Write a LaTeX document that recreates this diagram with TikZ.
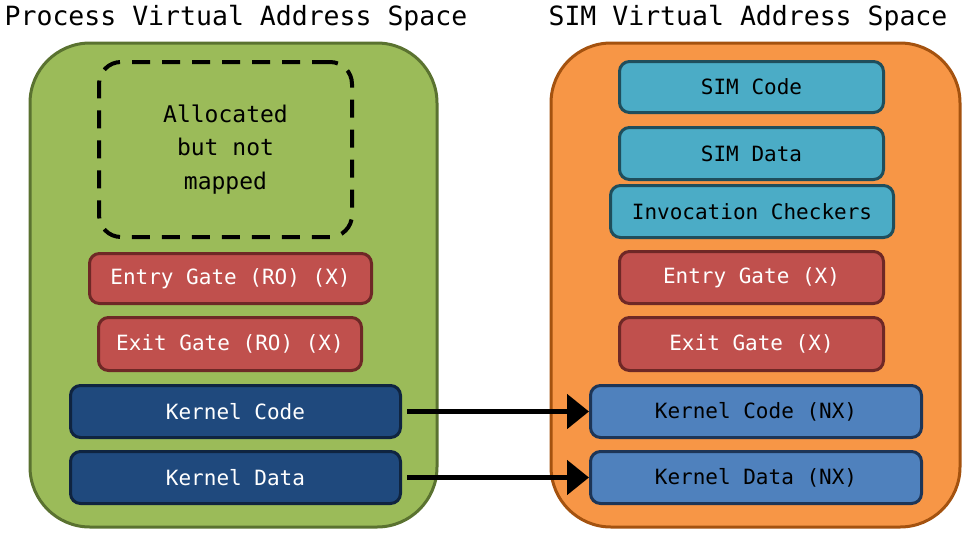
\documentclass[tikz,border=0pt]{standalone}
\usepackage{fontspec}
\setmonofont{DejaVu Sans Mono}
\usepackage{tikz}
\usetikzlibrary{arrows.meta, positioning}

\definecolor{procgreen}{HTML}{9BBB59}
\definecolor{procline}{HTML}{5A7230}
\definecolor{simorange}{HTML}{F79646}
\definecolor{simline}{HTML}{A4520F}
\definecolor{gatered}{HTML}{C0504D}
\definecolor{gateline}{HTML}{6E2826}
\definecolor{kerndark}{HTML}{1F497D}
\definecolor{kerndarkline}{HTML}{0F2440}
\definecolor{simcyan}{HTML}{4BACC6}
\definecolor{simcyanline}{HTML}{1F4E5C}
\definecolor{kernblue}{HTML}{4F81BD}
\definecolor{kernblueline}{HTML}{1D3557}

\begin{document}
\begin{tikzpicture}[x=1pt,y=-1pt,
    every node/.style={font=\ttfamily\fontsize{21}{25}\selectfont},
    space/.style={draw, line width=3pt, rounded corners=60pt},
    seg/.style={draw, line width=3pt, rounded corners=10pt, anchor=north west},
    gate/.style={seg, fill=gatered, draw=gateline, text=white},
    kproc/.style={seg, fill=kerndark, draw=kerndarkline, text=white},
    simseg/.style={seg, fill=simcyan, draw=simcyanline},
    ksim/.style={seg, fill=kernblue, draw=kernblueline},
    map/.style={line width=5pt, -{Triangle[length=22pt,width=34pt]}}]
  \useasboundingbox (0,0) rectangle (972,539);
  % titles
  \node[font=\ttfamily\fontsize{26.5}{30}\selectfont] (ptitle) at (236,18) {Process Virtual Address Space};
  \node[font=\ttfamily\fontsize{26.5}{30}\selectfont] (stitle) at (748,18) {SIM Virtual Address Space};
  % address spaces
  \draw[space, fill=procgreen, draw=procline] (30,43) rectangle (437,527);
  \draw[space, fill=simorange, draw=simline] (551,43) rectangle (960,527);
  % process side
  \node[draw, dashed, line width=4pt, dash pattern=on 18pt off 12pt, rounded corners=22pt,
        minimum width=253pt, minimum height=175pt, align=center, anchor=north west,
        font=\ttfamily\fontsize{23}{33.5}\selectfont] (unmapped) at (97,60) {Allocated\\but not\\mapped};
  \node[gate, minimum width=282pt, minimum height=50pt] (pentry) at (88,252) {Entry Gate (RO) (X)};
  \node[gate, minimum width=263pt, minimum height=53pt] (pexit) at (97,316) {Exit Gate (RO) (X)};
  \node[kproc, minimum width=330pt, minimum height=52pt] (pkcode) at (69,384) {Kernel Code};
  \node[kproc, minimum width=330pt, minimum height=52pt] (pkdata) at (69,450) {Kernel Data};
  % SIM side
  \node[simseg, minimum width=264pt, minimum height=51pt] (scode) at (618,60) {SIM Code};
  \node[simseg, minimum width=264pt, minimum height=52pt] (sdata) at (618,126) {SIM Data};
  \node[simseg, minimum width=283pt, minimum height=52pt] (scheck) at (609,184) {Invocation Checkers};
  \node[gate, minimum width=264pt, minimum height=52pt] (sentry) at (618,250) {Entry Gate (X)};
  \node[gate, minimum width=264pt, minimum height=53pt] (sexit) at (618,316) {Exit Gate (X)};
  \node[ksim, minimum width=331pt, minimum height=52pt] (skcode) at (589,384) {Kernel Code (NX)};
  \node[ksim, minimum width=331pt, minimum height=52pt] (skdata) at (589,450) {Kernel Data (NX)};
  % mappings
  \draw[map] ([xshift=5pt]pkcode.east) -- (skcode.west);
  \draw[map] ([xshift=5pt]pkdata.east) -- (skdata.west);
\end{tikzpicture}
\end{document}
